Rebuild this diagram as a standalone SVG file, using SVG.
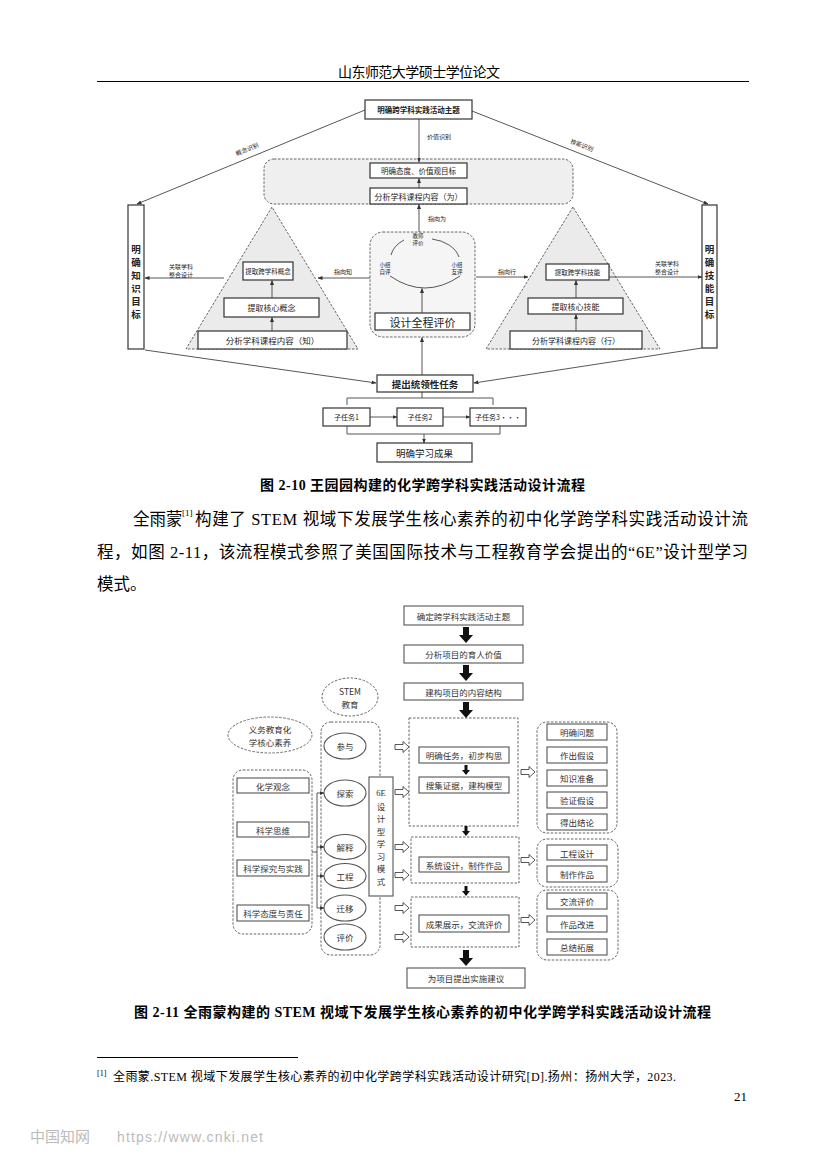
<svg xmlns="http://www.w3.org/2000/svg" width="827" height="1170" viewBox="0 0 827 1170">
<style>
.pg{font-family:"Liberation Serif","Noto Sans CJK SC",serif;fill:#000}
.t{font-family:"Noto Sans CJK SC",sans-serif;fill:#222;text-anchor:middle;dominant-baseline:central}
.b{fill:#fff;stroke:#333;stroke-width:1.2}
.ln{fill:none;stroke:#444;stroke-width:0.9}
.dsh{stroke:#555;stroke-width:0.9;stroke-dasharray:2.5 1.5}
.g2{fill:#fff;stroke:#555;stroke-width:1.1}
.t2{font-family:"Noto Sans CJK SC",sans-serif;fill:#333;text-anchor:middle;dominant-baseline:central;font-size:8.5px}
.blk{fill:#111}
.hol{fill:#fff;stroke:#444;stroke-width:0.9}
</style>
<defs>
<marker id="ah" viewBox="0 0 10 10" refX="9" refY="5" markerWidth="5" markerHeight="5" markerUnits="userSpaceOnUse" orient="auto"><path d="M0,1 L10,5 L0,9 z" fill="#333"/></marker>
<path id="ha" d="M0,-2.5 H8 V-5.5 L14,0 L8,5.5 V2.5 H0 z"/>
<path id="bigA" d="M-3,0 H3 V8 H7 L0,16 L-7,8 H-3 z"/>
<path id="smA" d="M-1.5,0 H1.5 V5 H4 L0,10 L-4,5 H-1.5 z"/>
</defs>
<rect width="827" height="1170" fill="#fff"/>

<!-- page header -->
<text class="pg" x="338" y="77" font-size="14" textLength="162">山东师范大学硕士学位论文</text>
<line x1="97" y1="81.5" x2="749" y2="81.5" stroke="#000" stroke-width="1"/>

<!-- ================= Figure 2-10 ================= -->
<g id="fig210-areas">
<rect x="264" y="159" width="309" height="45" rx="10" fill="#efefef" class="dsh"/>
<polygon points="272,207 186,349 358,349" fill="#ebebeb" class="dsh"/>
<polygon points="573,207 486,349 660,349" fill="#ebebeb" class="dsh"/>
<rect x="370" y="232" width="105" height="105" rx="13" fill="#f5f5f5" class="dsh"/>
</g>

<g id="connectors-210">
<line class="ln" x1="419" y1="119" x2="419" y2="162" marker-end="url(#ah)"/>
<line class="ln" x1="419" y1="188" x2="419" y2="178.5" marker-end="url(#ah)"/>
<line class="ln" x1="419" y1="232" x2="419" y2="204.5" marker-end="url(#ah)"/>
<line class="ln" x1="365" y1="110" x2="137" y2="204" marker-end="url(#ah)"/>
<line class="ln" x1="472" y1="111" x2="708" y2="204" marker-end="url(#ah)"/>
<line class="ln" x1="272" y1="298" x2="272" y2="280.5" marker-end="url(#ah)"/>
<line class="ln" x1="272" y1="331" x2="272" y2="317.5" marker-end="url(#ah)"/>
<line class="ln" x1="576" y1="298" x2="576" y2="280.5" marker-end="url(#ah)"/>
<line class="ln" x1="576" y1="331" x2="576" y2="314.5" marker-end="url(#ah)"/>
<line class="ln" x1="224" y1="278" x2="145" y2="278" marker-end="url(#ah)"/>
<line class="ln" x1="370" y1="278" x2="318" y2="278" marker-end="url(#ah)"/>
<line class="ln" x1="476" y1="277" x2="528" y2="277" marker-end="url(#ah)"/>
<line class="ln" x1="609" y1="277" x2="702" y2="277" marker-end="url(#ah)"/>
<path class="ln" d="M404,240 A34,24 0 0,0 391,255"/>
<path class="ln" d="M432,239 A34,24 0 0,1 459,257"/>
<path class="ln" d="M390,276 Q425,300 460,276"/>
<line class="ln" x1="422" y1="313" x2="422" y2="288.5" marker-end="url(#ah)"/>
<line class="ln" x1="422" y1="375" x2="422" y2="337.5" marker-end="url(#ah)"/>
<line class="ln" x1="145" y1="350" x2="376" y2="383" marker-end="url(#ah)"/>
<line class="ln" x1="702" y1="348" x2="474" y2="383" marker-end="url(#ah)"/>
<path class="ln" d="M422,392 V398 M347,405 V398 H493 V405"/>
<line class="ln" x1="370" y1="417" x2="397" y2="417" marker-end="url(#ah)"/>
<line class="ln" x1="443" y1="417" x2="470" y2="417" marker-end="url(#ah)"/>
<path class="ln" d="M347,426 V434 H500 V426"/>
<line class="ln" x1="424" y1="434" x2="424" y2="443" marker-end="url(#ah)"/>
</g>

<g id="edge-labels-210" class="t" font-size="6">
<text x="439" y="136">价值识别</text>
<text x="247" y="149" transform="rotate(-22.4 247 149)">概念识别</text>
<text x="582" y="145" transform="rotate(21.5 582 145)">技能识别</text>
<text x="181" y="266">关联学科</text>
<text x="181" y="274">整合设计</text>
<text x="343" y="271">指向知</text>
<text x="507" y="271">指向行</text>
<text x="667" y="263">关联学科</text>
<text x="667" y="271">整合设计</text>
<text x="437" y="218">指向为</text>
</g>

<g id="n-theme"><rect class="b" x="365" y="100" width="107" height="19"/><text class="t" x="418.5" y="109.5" font-size="7.5" font-weight="bold">明确跨学科实践活动主题</text></g>
<g id="n-attitude"><rect class="b" x="370" y="163" width="97" height="15"/><text class="t" x="418.5" y="170.5" font-size="7.5">明确态度、价值观目标</text></g>
<g id="n-analyze-wei"><rect class="b" x="370" y="188" width="97" height="16"/><text class="t" x="418.5" y="196" font-size="8">分析学科课程内容（为）</text></g>
<g id="n-know-goal"><rect class="b" x="128" y="205" width="16" height="144"/>
<g class="t" font-size="9.5" font-weight="bold"><text x="136" y="249">明</text><text x="136" y="262">确</text><text x="136" y="275">知</text><text x="136" y="288">识</text><text x="136" y="301">目</text><text x="136" y="314">标</text></g></g>
<g id="n-skill-goal"><rect class="b" x="702" y="205" width="15" height="143"/>
<g class="t" font-size="9.5" font-weight="bold"><text x="709.5" y="249">明</text><text x="709.5" y="262">确</text><text x="709.5" y="275">技</text><text x="709.5" y="288">能</text><text x="709.5" y="301">目</text><text x="709.5" y="314">标</text></g></g>
<g id="n-cross-concept"><rect class="b" x="243" y="262" width="50" height="18"/><text class="t" x="268" y="271" font-size="6.5">提取跨学科概念</text></g>
<g id="n-core-concept"><rect class="b" x="224" y="298" width="95" height="19"/><text class="t" x="271.5" y="307.5" font-size="8">提取核心概念</text></g>
<g id="n-analyze-zhi"><rect class="b" x="198" y="331" width="149" height="18"/><text class="t" x="272.5" y="340" font-size="8.5">分析学科课程内容（知）</text></g>
<g id="n-cross-skill"><rect class="b" x="546" y="264" width="63" height="16"/><text class="t" x="577.5" y="272" font-size="6.5">提取跨学科技能</text></g>
<g id="n-core-skill"><rect class="b" x="528" y="298" width="95" height="16"/><text class="t" x="575.5" y="306" font-size="8">提取核心技能</text></g>
<g id="n-analyze-xing"><rect class="b" x="510" y="331" width="132" height="18"/><text class="t" x="576" y="340" font-size="8">分析学科课程内容（行）</text></g>
<g id="n-eval-cycle" class="t" font-size="5.5">
<text x="418" y="236">教师</text><text x="418" y="243">评价</text>
<text x="385" y="265">小组</text><text x="385" y="272">自评</text>
<text x="457" y="265">小组</text><text x="457" y="272">互评</text>
</g>
<g id="n-design-eval"><rect class="b" x="375" y="313" width="95" height="17"/><text class="t" x="422.5" y="321.5" font-size="11">设计全程评价</text></g>
<g id="n-task"><rect class="b" x="377" y="375" width="96" height="17"/><text class="t" x="425" y="383.5" font-size="9.5" font-weight="bold">提出统领性任务</text></g>
<g id="n-sub1"><rect class="b" x="323" y="408" width="47" height="18"/><text class="t" x="346.5" y="417" font-size="7">子任务1</text></g>
<g id="n-sub2"><rect class="b" x="397" y="408" width="46" height="18"/><text class="t" x="420" y="417" font-size="7">子任务2</text></g>
<g id="n-sub3"><rect class="b" x="470" y="408" width="56" height="18"/><text class="t" x="498" y="417" font-size="7">子任务3···</text></g>
<g id="n-outcome"><rect class="b" x="377" y="443" width="95" height="19"/><text class="t" x="424.5" y="452.5" font-size="9.5">明确学习成果</text></g>

<text class="pg" x="260" y="490" font-size="14" font-weight="bold" textLength="325">图 2-10  王园园构建的化学跨学科实践活动设计流程</text>

<!-- paragraph -->
<text class="pg" x="133" y="525" font-size="16.5">全雨蒙</text>
<text class="pg" x="182" y="516" font-size="9">[1]</text>
<text class="pg" x="195" y="525" font-size="16.5" textLength="553">构建了 STEM 视域下发展学生核心素养的初中化学跨学科实践活动设计流</text>
<text class="pg" x="97" y="558" font-size="16.5" textLength="651">程，如图 2-11，该流程模式参照了美国国际技术与工程教育学会提出的“6E”设计型学习</text>
<text class="pg" x="97" y="590" font-size="16.5">模式。</text>

<!-- ================= Figure 2-11 ================= -->
<g id="fig211-groups">
<rect x="409" y="718" width="109" height="108" fill="#fff" class="dsh"/>
<rect x="411" y="837" width="108" height="46" fill="#fff" class="dsh"/>
<rect x="411" y="897" width="108" height="50" fill="#fff" class="dsh"/>
<rect x="537" y="722" width="80" height="111" rx="10" fill="#fff" class="dsh"/>
<rect x="537" y="839" width="81" height="48" rx="10" fill="#fff" class="dsh"/>
<rect x="537" y="890" width="81" height="70" rx="10" fill="#fff" class="dsh"/>
<rect x="321" y="722" width="59" height="233" rx="10" fill="#fff" class="dsh"/>
<rect x="233" y="770" width="79" height="164" rx="10" fill="#fff" class="dsh"/>
</g>

<g id="connectors-211">
<use href="#bigA" x="466" y="627" class="blk"/>
<use href="#bigA" x="466" y="665" class="blk"/>
<use href="#bigA" x="466" y="702" class="blk"/>
<use href="#smA" x="466" y="765" class="blk"/>
<use href="#smA" x="466" y="826" class="blk"/>
<use href="#smA" x="466" y="886" class="blk"/>
<use href="#bigA" x="466" y="950" class="blk"/>
<use href="#ha" x="521" y="772" class="hol"/>
<use href="#ha" x="521" y="860" class="hol"/>
<use href="#ha" x="521" y="920" class="hol"/>
<use href="#ha" x="395" y="747" class="hol"/>
<use href="#ha" x="395" y="792" class="hol"/>
<use href="#ha" x="395" y="847" class="hol"/>
<use href="#ha" x="395" y="875" class="hol"/>
<use href="#ha" x="395" y="908" class="hol"/>
<use href="#ha" x="395" y="937" class="hol"/>
<path class="ln" d="M312,852 H317 M317,793 V908"/>
<line class="ln" x1="317" y1="793" x2="324" y2="793" marker-end="url(#ah)"/>
<line class="ln" x1="317" y1="847" x2="324" y2="847" marker-end="url(#ah)"/>
<line class="ln" x1="317" y1="876" x2="324" y2="876" marker-end="url(#ah)"/>
<line class="ln" x1="317" y1="908" x2="324" y2="908" marker-end="url(#ah)"/>
</g>

<g id="m-theme"><rect class="g2" x="404" y="606" width="119" height="19"/><text class="t2" x="463.5" y="615.5">确定跨学科实践活动主题</text></g>
<g id="m-value"><rect class="g2" x="404" y="645" width="119" height="18"/><text class="t2" x="463.5" y="654">分析项目的育人价值</text></g>
<g id="m-structure"><rect class="g2" x="404" y="683" width="119" height="17"/><text class="t2" x="463.5" y="691.5">建构项目的内容结构</text></g>
<g id="m-task"><rect class="g2" x="419" y="747" width="90" height="16"/><text class="t2" x="464" y="755" font-size="8">明确任务，初步构思</text></g>
<g id="m-evidence"><rect class="g2" x="419" y="777" width="90" height="16"/><text class="t2" x="464" y="785" font-size="8">搜集证据，建构模型</text></g>
<g id="m-system"><rect class="g2" x="419" y="857" width="90" height="15"/><text class="t2" x="464" y="864.5" font-size="8">系统设计，制作作品</text></g>
<g id="m-show"><rect class="g2" x="419" y="915" width="90" height="17"/><text class="t2" x="464" y="923.5" font-size="8">成果展示，交流评价</text></g>
<g id="m-suggest"><rect class="g2" x="407" y="968" width="118" height="20"/><text class="t2" x="466" y="978" font-size="9.5">为项目提出实施建议</text></g>

<g id="r-q1"><rect class="g2" x="547" y="724" width="60" height="16"/><text class="t2" x="577" y="732">明确问题</text></g>
<g id="r-q2"><rect class="g2" x="547" y="747" width="60" height="16"/><text class="t2" x="577" y="755">作出假设</text></g>
<g id="r-q3"><rect class="g2" x="547" y="770" width="60" height="16"/><text class="t2" x="577" y="778">知识准备</text></g>
<g id="r-q4"><rect class="g2" x="547" y="792" width="60" height="16"/><text class="t2" x="577" y="800">验证假设</text></g>
<g id="r-q5"><rect class="g2" x="547" y="814" width="60" height="16"/><text class="t2" x="577" y="822">得出结论</text></g>
<g id="r-e1"><rect class="g2" x="547" y="845" width="60" height="15"/><text class="t2" x="577" y="852.5">工程设计</text></g>
<g id="r-e2"><rect class="g2" x="547" y="866" width="60" height="16"/><text class="t2" x="577" y="874">制作作品</text></g>
<g id="r-s1"><rect class="g2" x="547" y="893" width="60" height="16"/><text class="t2" x="577" y="901">交流评价</text></g>
<g id="r-s2"><rect class="g2" x="547" y="916" width="60" height="16"/><text class="t2" x="577" y="924">作品改进</text></g>
<g id="r-s3"><rect class="g2" x="547" y="939" width="60" height="16"/><text class="t2" x="577" y="947">总结拓展</text></g>

<g id="e-stem"><ellipse cx="350" cy="697" rx="28" ry="19" fill="#fff" class="dsh"/><text class="t2" x="350" y="691" font-family="Liberation Serif,serif">STEM</text><text class="t2" x="350" y="704">教育</text></g>
<g id="e-core"><ellipse cx="270" cy="735" rx="42" ry="18" fill="#fff" class="dsh"/><text class="t2" x="270" y="729">义务教育化</text><text class="t2" x="270" y="742">学核心素养</text></g>

<g id="l-1"><rect class="g2" x="237" y="778" width="72" height="15"/><text class="t2" x="273" y="785.5">化学观念</text></g>
<g id="l-2"><rect class="g2" x="237" y="822" width="72" height="15"/><text class="t2" x="273" y="829.5">科学思维</text></g>
<g id="l-3"><rect class="g2" x="237" y="860" width="72" height="16"/><text class="t2" x="273" y="868">科学探究与实践</text></g>
<g id="l-4"><rect class="g2" x="237" y="905" width="72" height="16"/><text class="t2" x="273" y="913">科学态度与责任</text></g>

<g id="p-1"><ellipse cx="345" cy="746" rx="21" ry="13" class="g2"/><text class="t2" x="345" y="746">参与</text></g>
<g id="p-2"><ellipse cx="345" cy="793" rx="21" ry="13" class="g2"/><text class="t2" x="345" y="793">探索</text></g>
<g id="p-3"><ellipse cx="345" cy="847" rx="21" ry="12.5" class="g2"/><text class="t2" x="345" y="847">解释</text></g>
<g id="p-4"><ellipse cx="345" cy="876" rx="21" ry="12.5" class="g2"/><text class="t2" x="345" y="876">工程</text></g>
<g id="p-5"><ellipse cx="345" cy="908" rx="21" ry="13" class="g2"/><text class="t2" x="345" y="908">迁移</text></g>
<g id="p-6"><ellipse cx="345" cy="937" rx="21" ry="13" class="g2"/><text class="t2" x="345" y="937">评价</text></g>

<g id="n-6e"><rect class="g2" x="369" y="777" width="24" height="119"/>
<g class="t2" font-size="9"><text x="381" y="793" font-family="Liberation Serif,serif">6E</text><text x="381" y="805.5">设</text><text x="381" y="818">计</text><text x="381" y="830.5">型</text><text x="381" y="843">学</text><text x="381" y="855.5">习</text><text x="381" y="868">模</text><text x="381" y="880.5">式</text></g></g>

<text class="pg" x="134" y="1017" font-size="14" font-weight="bold" textLength="577">图 2-11  全雨蒙构建的 STEM  视域下发展学生核心素养的初中化学跨学科实践活动设计流程</text>

<!-- footnote -->
<line x1="97" y1="1057.5" x2="298" y2="1057.5" stroke="#000" stroke-width="1"/>
<text class="pg" x="97" y="1076" font-size="8">[1]</text>
<text class="pg" x="113" y="1081" font-size="12" textLength="563">全雨蒙.STEM 视域下发展学生核心素养的初中化学跨学科实践活动设计研究[D].扬州：扬州大学，2023.</text>
<text class="pg" x="734" y="1101" font-size="13">21</text>

<text x="30" y="1142" font-family="Noto Sans CJK SC,sans-serif" font-size="15" fill="#bbb">中国知网</text>
<text x="117" y="1142" font-family="Liberation Sans,sans-serif" font-size="14" fill="#bbb" textLength="146">https://www.cnki.net</text>
</svg>
